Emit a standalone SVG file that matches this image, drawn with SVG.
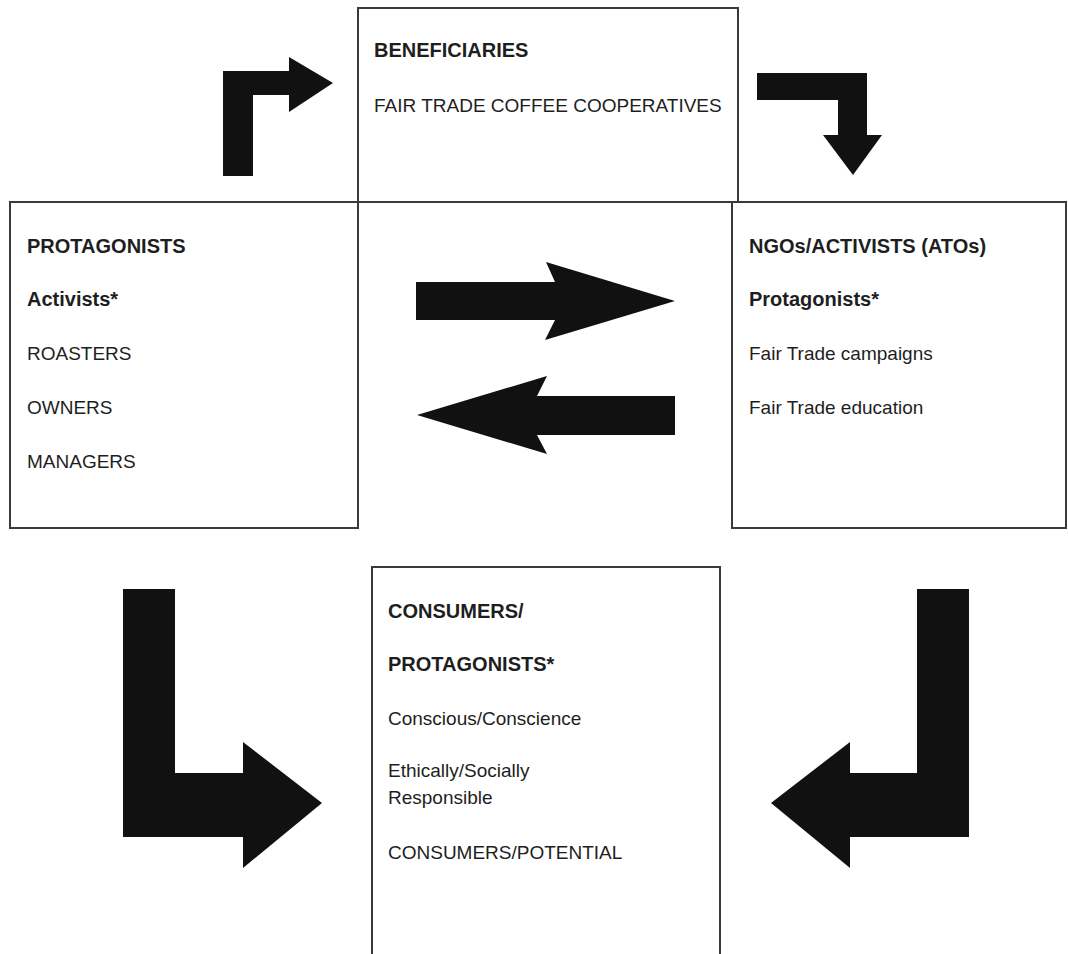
<svg xmlns="http://www.w3.org/2000/svg" width="1068" height="954" viewBox="0 0 1068 954">
  <style>
    .box { fill: #ffffff; stroke: #3a3a3a; stroke-width: 2; }
    .arrow { fill: #111111; stroke: none; }
    text { font-family: "Liberation Sans", Arial, sans-serif; fill: #1e1e1e; }
    .b { font-weight: bold; font-size: 20px; }
    .r { font-size: 19px; }
  </style>
  <rect x="0" y="0" width="1068" height="954" fill="#ffffff"/>

  <g id="connectors">
    <polygon class="arrow" points="223,176 223,71 289,71 289,57 333,83 289,112 289,95 253,95 253,176"/>
    <polygon class="arrow" points="757,73 867,73 867,135 882,135 853,175 823,135 838,135 838,100 757,100"/>
    <polygon class="arrow" points="416,282 555,282 546,262 675,301 545,340 555,320 416,320"/>
    <polygon class="arrow" points="675,396 537,396 547,376 417,415 547,454 537,435 675,435"/>
    <polygon class="arrow" points="123,589 175,589 175,773 243,773 243,742 322,803 243,868 243,837 123,837"/>
    <polygon class="arrow" points="969,589 917,589 917,773 850,773 850,742 771,803 850,868 850,837 969,837"/>
  </g>

  <g id="beneficiaries">
    <rect class="box" x="358" y="8" width="380" height="194"/>
    <text class="b" x="374" y="57">BENEFICIARIES</text>
    <text class="r" x="374" y="112">FAIR TRADE COFFEE COOPERATIVES</text>
  </g>

  <g id="protagonists">
    <rect class="box" x="10" y="202" width="348" height="326"/>
    <text class="b" x="27" y="253">PROTAGONISTS</text>
    <text class="b" x="27" y="306">Activists*</text>
    <text class="r" x="27" y="360">ROASTERS</text>
    <text class="r" x="27" y="414">OWNERS</text>
    <text class="r" x="27" y="468">MANAGERS</text>
  </g>

  <g id="ngos">
    <rect class="box" x="732" y="202" width="334" height="326"/>
    <text class="b" x="749" y="253">NGOs/ACTIVISTS (ATOs)</text>
    <text class="b" x="749" y="306">Protagonists*</text>
    <text class="r" x="749" y="360">Fair Trade campaigns</text>
    <text class="r" x="749" y="414">Fair Trade education</text>
  </g>

  <g id="consumers">
    <rect class="box" x="372" y="567" width="348" height="400"/>
    <text class="b" x="388" y="618">CONSUMERS/</text>
    <text class="b" x="388" y="671">PROTAGONISTS*</text>
    <text class="r" x="388" y="725">Conscious/Conscience</text>
    <text class="r" x="388" y="777">Ethically/Socially</text>
    <text class="r" x="388" y="804">Responsible</text>
    <text class="r" x="388" y="859">CONSUMERS/POTENTIAL</text>
  </g>
</svg>
